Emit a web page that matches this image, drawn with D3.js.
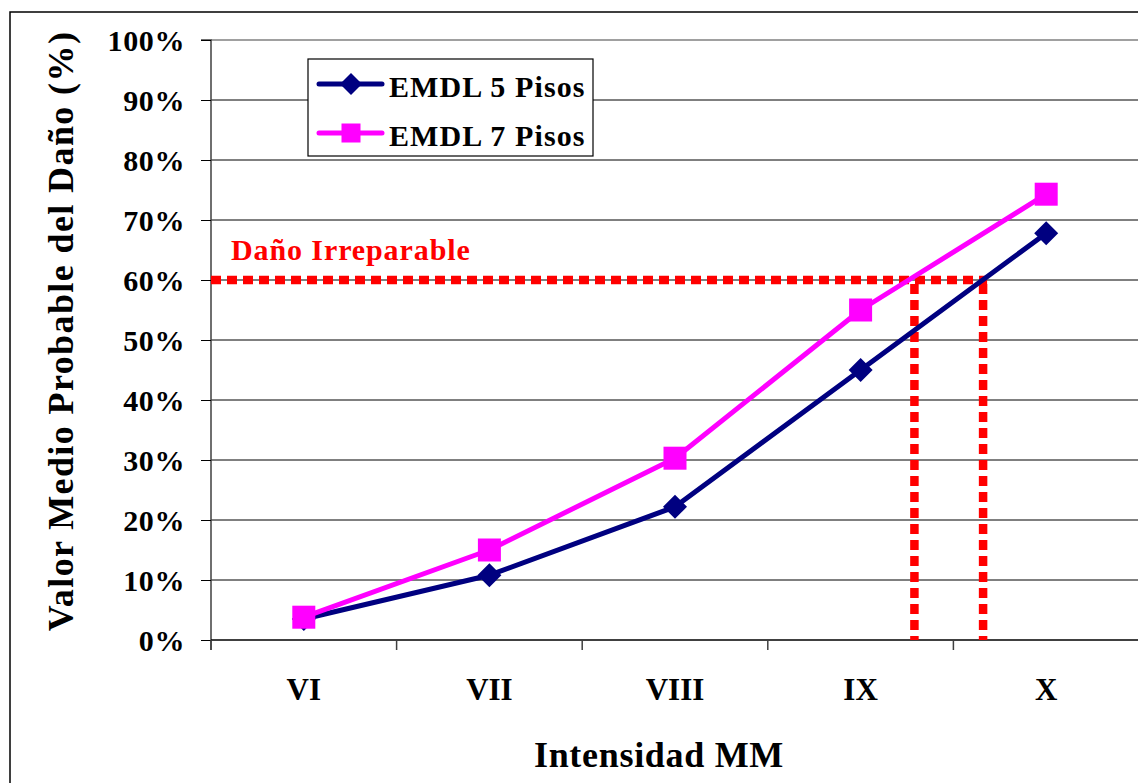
<!DOCTYPE html>
<html><head><meta charset="utf-8">
<script src="https://cdn.jsdelivr.net/npm/d3@7"></script>
<style>html,body{margin:0;padding:0;background:#fff;}svg{display:block;}</style>
</head><body>
<svg id="c" width="1138" height="783"></svg>
<script>
// ---- data ----
const categorias = ["VI", "VII", "VIII", "IX", "X"];
const emdl5 = [3.5, 10.8, 22.2, 45.0, 67.8];
const emdl7 = [3.8, 15.0, 30.3, 55.0, 74.3];
const serieNombres = ["EMDL 5 Pisos", "EMDL 7 Pisos"];
const yTicks = [0, 10, 20, 30, 40, 50, 60, 70, 80, 90, 100];
const umbral = 60;                 // Daño Irreparable (%)
const intensidadesCruce = [9.29, 9.66]; // where the series reach the threshold

const font = "'Liberation Serif','Times New Roman',serif";
const svg = d3.select("#c");
const L = 211, R = 1139, T = 40, B = 640;

// outer border
svg.append("rect").attr("x", 10).attr("y", 12).attr("width", 1140).attr("height", 800)
  .attr("fill", "#fff").attr("stroke", "#000").attr("stroke-width", 1.5);

const x = d3.scalePoint().domain(categorias).range([L, R]).padding(0.5);
const step = x.step();
const xNum = d3.scaleLinear().domain([6, 10]).range([x("VI"), x("X")]);
const y = d3.scaleLinear().domain([0, 100]).range([B, T]);

// gridlines
svg.append("g").selectAll("line").data(yTicks.filter(d => d > 0)).join("line")
  .attr("x1", L).attr("x2", R).attr("y1", d => y(d)).attr("y2", d => y(d))
  .attr("stroke", d => d === 100 ? "#808080" : "#000").attr("stroke-width", d => d === 100 ? 1.5 : 1);

// y axis
const yAxis = d3.axisLeft(y).tickValues(yTicks).tickSize(10).tickFormat(d => d + "%");
const gy = svg.append("g").attr("transform", `translate(${L},0)`).call(yAxis);
gy.select(".domain").attr("stroke", "#404040").attr("stroke-width", 1.5).attr("d", `M-10,${T}H0V${B+10}`);
gy.selectAll(".tick line").attr("stroke", "#000");
gy.selectAll(".tick text").attr("x", -26).attr("dy", "0.36em")
  .attr("font-family", font).attr("font-weight", "bold").attr("font-size", 30).attr("fill", "#000")
  .attr("letter-spacing", 0.6);

// x axis
const gx = svg.append("g").attr("transform", `translate(0,${B})`);
gx.append("line").attr("x1", L).attr("x2", R).attr("y1", 0).attr("y2", 0)
  .attr("stroke", "#000").attr("stroke-width", 1.5);
const bounds = d3.range(categorias.length + 1).map(i => L + i * step);
gx.selectAll("line.tk").data(bounds).join("line").attr("class", "tk")
  .attr("x1", d => d).attr("x2", d => d).attr("y1", 0).attr("y2", 10)
  .attr("stroke", "#404040").attr("stroke-width", 1.5);
gx.selectAll("text").data(categorias).join("text")
  .attr("x", d => x(d)).attr("y", 60).attr("text-anchor", "middle")
  .attr("font-family", font).attr("font-weight", "bold").attr("font-size", 31).text(d => d);

// threshold dotted lines
const red = "#ff0000";
const dash = { "stroke": red, "stroke-width": 8.5, "stroke-dasharray": "10,6", "fill": "none" };
const maxCruce = d3.max(intensidadesCruce);
const hl = svg.append("line").attr("x1", L).attr("x2", xNum(maxCruce) + 4)
  .attr("y1", y(umbral)).attr("y2", y(umbral));
Object.entries(dash).forEach(([k, v]) => hl.attr(k, v));
intensidadesCruce.forEach(v => {
  const vl = svg.append("line").attr("x1", xNum(v)).attr("x2", xNum(v))
    .attr("y1", y(umbral) + 4).attr("y2", B);
  Object.entries(dash).forEach(([k, val]) => vl.attr(k, val));
});
svg.append("text").attr("x", 231).attr("y", 260).attr("fill", red)
  .attr("font-family", font).attr("font-weight", "bold").attr("font-size", 30)
  .attr("letter-spacing", 0.9).text("Daño Irreparable");

// series
const line = d3.line().x((d, i) => x(categorias[i])).y(d => y(d));
const colors = ["#000080", "#ff00ff"];
[emdl5, emdl7].forEach((s, si) => {
  svg.append("path").datum(s).attr("d", line).attr("fill", "none")
    .attr("stroke", colors[si]).attr("stroke-width", 5).attr("stroke-linejoin", "round");
});
const diamond = (g, cx, cy, r) => g.append("path")
  .attr("d", `M${cx},${cy - r}L${cx + r},${cy}L${cx},${cy + r}L${cx - r},${cy}Z`).attr("fill", colors[0]);
const square = (g, cx, cy, h) => g.append("rect")
  .attr("x", cx - h).attr("y", cy - h).attr("width", 2 * h).attr("height", 2 * h).attr("fill", colors[1]);
const mk = svg.append("g");
emdl5.forEach((v, i) => diamond(mk, x(categorias[i]), y(v), 12));
emdl7.forEach((v, i) => square(mk, x(categorias[i]), y(v), 11.5));

// legend
const lg = svg.append("g");
lg.append("rect").attr("x", 308).attr("y", 59).attr("width", 285).attr("height", 97)
  .attr("fill", "#fff").attr("stroke", "#000").attr("stroke-width", 1.2);
const rows = [84, 133];
serieNombres.forEach((n, i) => {
  lg.append("line").attr("x1", 319).attr("x2", 382).attr("y1", rows[i]).attr("y2", rows[i])
    .attr("stroke", colors[i]).attr("stroke-width", 5).attr("stroke-linecap", "round");
  if (i === 0) diamond(lg, 351, rows[i], 11); else square(lg, 351, rows[i], 9.5);
  lg.append("text").attr("x", 389).attr("y", rows[i] + 13)
    .attr("font-family", font).attr("font-weight", "bold").attr("font-size", 30)
    .attr("letter-spacing", 1.1).text(n);
});

// axis titles
svg.append("text").attr("x", 659).attr("y", 767).attr("text-anchor", "middle")
  .attr("font-family", font).attr("font-weight", "bold").attr("font-size", 36)
  .attr("letter-spacing", 0.7).text("Intensidad MM");
svg.append("text").attr("transform", "translate(73,331) rotate(-90)").attr("text-anchor", "middle")
  .attr("font-family", font).attr("font-weight", "bold").attr("font-size", 36)
  .attr("letter-spacing", 1.4).text("Valor Medio Probable del Daño (%)");
</script>
</body></html>
